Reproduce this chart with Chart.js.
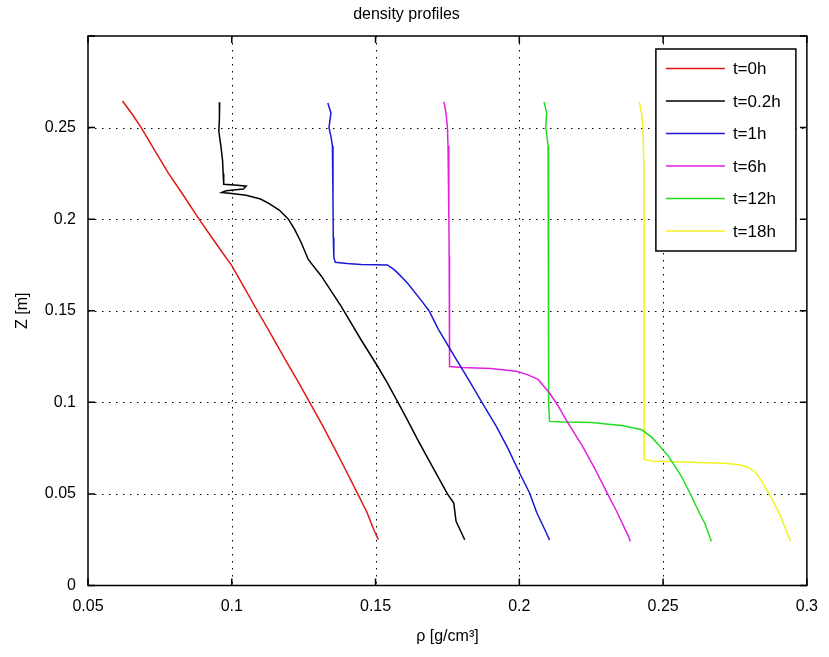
<!DOCTYPE html>
<html>
<head>
<meta charset="utf-8">
<title>density profiles</title>
<script src="https://cdn.jsdelivr.net/npm/chart.js@4.4.1/dist/chart.umd.min.js"></script>
<style>
  body { margin: 0; background: #fff; }
  #wrap { width: 829px; height: 657px; }
</style>
</head>
<body>
<div id="wrap"><canvas id="graphique" width="829" height="657"></canvas></div>
<script>
// series names and colours (matlab default r, k, b, m, g, y)
const seriesLabels = ["t=0h", "t=0.2h", "t=1h", "t=6h", "t=12h", "t=18h"];
const seriesColors = ["#e01818", "#000000", "#1a1ad6", "#e020e0", "#22dd22", "#f2f21e"];

// tick values
const xTicks = [0.05, 0.1, 0.15, 0.2, 0.25, 0.3];
const xTickLabels = ["0.05", "0.1", "0.15", "0.2", "0.25", "0.3"];
const yTicks = [0, 0.05, 0.1, 0.15, 0.2, 0.25, 0.3];
const yTickLabels = ["0", "0.05", "0.1", "0.15", "0.2", "0.25", ""];

// density (x) and height (y)
const rho0 = [0.0620, 0.0655, 0.0685, 0.0732, 0.0780, 0.0834, 0.0886, 0.0944, 0.1001, 0.1046, 0.1089, 0.1133, 0.1180, 0.1226, 0.1271, 0.1315, 0.1357, 0.1398, 0.1438, 0.1470, 0.1495, 0.1510];
const z0 = [0.2645, 0.2570, 0.2500, 0.2375, 0.2250, 0.2125, 0.2000, 0.1870, 0.1744, 0.1620, 0.1500, 0.1380, 0.1250, 0.1125, 0.1000, 0.0875, 0.0750, 0.0625, 0.0500, 0.0400, 0.0300, 0.0250];

const rho02 = [0.0958, 0.0957, 0.0955, 0.0962, 0.0968, 0.0970, 0.0972, 0.1020, 0.1050, 0.1040, 0.0980, 0.0965, 0.1000, 0.1050, 0.1100, 0.1130, 0.1165, 0.1197, 0.1220, 0.1242, 0.1266, 0.1311, 0.1380, 0.1449, 0.1507, 0.1541, 0.1578, 0.1612, 0.1645, 0.1680, 0.1715, 0.1750, 0.1772, 0.1780, 0.1795, 0.1810];
const z02 = [0.2638, 0.2550, 0.2480, 0.2400, 0.2320, 0.2250, 0.2190, 0.2185, 0.2180, 0.2165, 0.2155, 0.2145, 0.2140, 0.2130, 0.2110, 0.2085, 0.2050, 0.2000, 0.1940, 0.1870, 0.1780, 0.1690, 0.1525, 0.1343, 0.1197, 0.1106, 0.1000, 0.0900, 0.0800, 0.0700, 0.0600, 0.0500, 0.0450, 0.0350, 0.0300, 0.0250];

const rho1 = [0.1334, 0.1345, 0.1338, 0.1345, 0.1350, 0.1352, 0.1352, 0.1353, 0.1355, 0.1360, 0.1400, 0.1450, 0.1541, 0.1560, 0.1576, 0.1610, 0.1656, 0.1686, 0.1718, 0.1775, 0.1825, 0.1870, 0.1920, 0.1960, 0.2001, 0.2036, 0.2060, 0.2090, 0.2105];
const z1 = [0.2634, 0.2580, 0.2500, 0.2450, 0.2400, 0.2300, 0.2100, 0.1900, 0.1790, 0.1765, 0.1758, 0.1753, 0.1750, 0.1730, 0.1708, 0.1653, 0.1562, 0.1500, 0.1400, 0.1250, 0.1120, 0.1000, 0.0869, 0.0750, 0.0614, 0.0504, 0.0400, 0.0300, 0.0249];

const rho6 = [0.1738, 0.1745, 0.1750, 0.1752, 0.1755, 0.1755, 0.1756, 0.1757, 0.1757, 0.1758, 0.1800, 0.1900, 0.1990, 0.2030, 0.2065, 0.2105, 0.2135, 0.2162, 0.2220, 0.2262, 0.2300, 0.2340, 0.2380, 0.2386];
const z6 = [0.2640, 0.2580, 0.2500, 0.2400, 0.2200, 0.2000, 0.1800, 0.1500, 0.1300, 0.1195, 0.1190, 0.1185, 0.1170, 0.1150, 0.1125, 0.1051, 0.0980, 0.0905, 0.0760, 0.0640, 0.0522, 0.0400, 0.0267, 0.0240];

const rho12 = [0.2086, 0.2095, 0.2092, 0.2100, 0.2101, 0.2101, 0.2102, 0.2102, 0.2103, 0.2105, 0.2150, 0.2254, 0.2310, 0.2357, 0.2426, 0.2460, 0.2484, 0.2519, 0.2564, 0.2599, 0.2625, 0.2645, 0.2668];
const z12 = [0.2640, 0.2580, 0.2500, 0.2400, 0.2200, 0.2000, 0.1500, 0.1200, 0.1000, 0.0896, 0.0892, 0.0890, 0.0880, 0.0873, 0.0850, 0.0810, 0.0769, 0.0705, 0.0595, 0.0486, 0.0400, 0.0340, 0.0240];

const rho18 = [0.2417, 0.2425, 0.2430, 0.2433, 0.2434, 0.2434, 0.2434, 0.2434, 0.2435, 0.2460, 0.2519, 0.2620, 0.2714, 0.2760, 0.2794, 0.2820, 0.2840, 0.2874, 0.2909, 0.2928, 0.2943];
const z18 = [0.2640, 0.2580, 0.2500, 0.2300, 0.2000, 0.1500, 0.1000, 0.0800, 0.0690, 0.0680, 0.0677, 0.0672, 0.0668, 0.0660, 0.0647, 0.0620, 0.0577, 0.0486, 0.0376, 0.0300, 0.0240];

const allRho = [rho0, rho02, rho1, rho6, rho12, rho18];
const allZ = [z0, z02, z1, z6, z12, z18];

const police = "'Liberation Sans', Arial, sans-serif";

function faireDataset(i) {
    const points = allRho[i].map((r, k) => ({ x: r, y: allZ[i][k] }));
    return {
        label: seriesLabels[i],
        data: points,
        borderColor: seriesColors[i],
        backgroundColor: seriesColors[i],
        borderWidth: 1.5,
        pointRadius: 0,
        showLine: true,
        tension: 0
    };
}

// dotted grid under the curves
const grillePlugin = {
    id: "grille",
    beforeDatasetsDraw(chart) {
        const ctx = chart.ctx;
        const area = chart.chartArea;
        const sx = chart.scales.x;
        const sy = chart.scales.y;
        ctx.save();
        ctx.strokeStyle = "#000";
        ctx.lineWidth = 1;
        ctx.setLineDash([1.5, 5.5]);
        xTicks.forEach((v) => {
            if (v <= sx.min || v >= sx.max) return;
            const px = Math.round(sx.getPixelForValue(v)) + 0.5;
            ctx.beginPath();
            ctx.moveTo(px, area.top);
            ctx.lineTo(px, area.bottom);
            ctx.stroke();
        });
        yTicks.forEach((v) => {
            if (v <= sy.min || v >= sy.max) return;
            const py = Math.round(sy.getPixelForValue(v)) + 0.5;
            ctx.beginPath();
            ctx.moveTo(area.left, py);
            ctx.lineTo(area.right, py);
            ctx.stroke();
        });
        ctx.restore();
    }
};

// box round the axes with matlab style inner ticks, then the legend
const cadrePlugin = {
    id: "cadre",
    afterDatasetsDraw(chart) {
        const ctx = chart.ctx;
        const a = chart.chartArea;
        const sx = chart.scales.x;
        const sy = chart.scales.y;
        const tick = 7;
        ctx.save();
        ctx.setLineDash([]);
        ctx.strokeStyle = "#000";
        ctx.lineWidth = 1.5;
        ctx.strokeRect(a.left, a.top, a.right - a.left, a.bottom - a.top);
        ctx.beginPath();
        xTicks.forEach((v) => {
            const px = sx.getPixelForValue(v);
            ctx.moveTo(px, a.bottom);
            ctx.lineTo(px, a.bottom - tick);
            ctx.moveTo(px, a.top);
            ctx.lineTo(px, a.top + tick);
        });
        yTicks.forEach((v) => {
            const py = sy.getPixelForValue(v);
            ctx.moveTo(a.left, py);
            ctx.lineTo(a.left + tick, py);
            ctx.moveTo(a.right, py);
            ctx.lineTo(a.right - tick, py);
        });
        ctx.stroke();

        // legend box, top right inside the axes
        const w = 140, h = 202;
        const bx = a.right - 11 - w;
        const by = a.top + 13;
        ctx.fillStyle = "#fff";
        ctx.fillRect(bx, by, w, h);
        ctx.lineWidth = 1.5;
        ctx.strokeRect(bx, by, w, h);
        ctx.font = "17px " + police;
        ctx.textBaseline = "middle";
        ctx.textAlign = "left";
        chart.data.datasets.forEach((ds, i) => {
            const ly = by + 19.5 + i * 32.5;
            ctx.strokeStyle = ds.borderColor;
            ctx.lineWidth = 1.5;
            ctx.beginPath();
            ctx.moveTo(bx + 10, ly);
            ctx.lineTo(bx + 69, ly);
            ctx.stroke();
            ctx.fillStyle = "#000";
            ctx.fillText(ds.label, bx + 77, ly + 1);
        });
        ctx.restore();
    }
};

const canvas = document.getElementById("graphique");
new Chart(canvas, {
    type: "scatter",
    data: {
        datasets: seriesLabels.map((_, i) => faireDataset(i))
    },
    options: {
        responsive: false,
        animation: false,
        layout: { padding: { left: 0, right: 16, top: 0, bottom: 0 } },
        plugins: {
            legend: { display: false },
            tooltip: { enabled: false },
            title: {
                display: true,
                text: "density profiles",
                color: "#000",
                font: { family: police, size: 16, weight: "normal" },
                padding: { top: 5, bottom: 11.8 }
            }
        },
        scales: {
            x: {
                type: "linear",
                min: 0.05,
                max: 0.3,
                afterBuildTicks: (scale) => { scale.ticks = xTicks.map((v) => ({ value: v })); },
                afterFit: (scale) => { scale.height = 71.5; },
                grid: { display: false, drawTicks: false },
                border: { display: false },
                ticks: {
                    color: "#000",
                    padding: 11,
                    maxRotation: 0,
                    font: { family: police, size: 16 },
                    callback: (v, idx) => xTickLabels[idx]
                },
                title: {
                    display: true,
                    text: "ρ [g/cm³]",
                    color: "#000",
                    font: { family: police, size: 16 },
                    padding: { top: 0, bottom: 11 }
                }
            },
            y: {
                type: "linear",
                min: 0,
                max: 0.3,
                afterBuildTicks: (scale) => { scale.ticks = yTicks.map((v) => ({ value: v })); },
                afterFit: (scale) => { scale.width = 88; },
                grid: { display: false, drawTicks: false },
                border: { display: false },
                ticks: {
                    color: "#000",
                    padding: 12,
                    font: { family: police, size: 16 },
                    callback: (v, idx) => yTickLabels[idx]
                },
                title: {
                    display: true,
                    text: "Z [m]",
                    color: "#000",
                    font: { family: police, size: 16 },
                    padding: { top: 13, bottom: 0 }
                }
            }
        }
    },
    plugins: [grillePlugin, cadrePlugin]
});
</script>
</body>
</html>
